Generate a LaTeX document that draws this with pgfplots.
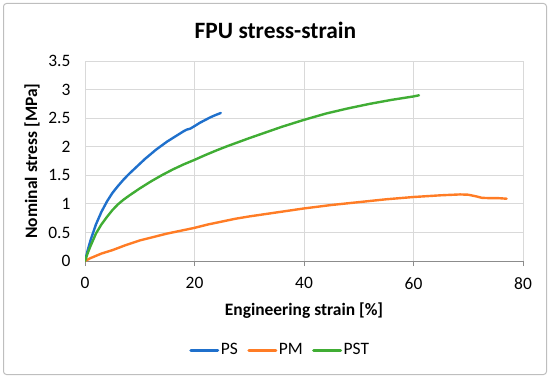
\documentclass[border=0pt]{standalone}
\usepackage{pgfplots}
\pgfplotsset{compat=1.18}
\usepackage{fontspec}
\setmainfont{Carlito}
\definecolor{psblue}{RGB}{31,112,204}
\definecolor{pmorange}{RGB}{255,124,37}
\definecolor{pstgreen}{RGB}{64,173,52}
\definecolor{gridgray}{RGB}{217,217,217}
\definecolor{axgray}{RGB}{140,140,140}
\definecolor{framegray}{RGB}{190,190,190}
\begin{document}
\begin{tikzpicture}[x=1bp,y=1bp]
\path[use as bounding box] (0,0) rectangle (550,378);
\draw[rounded corners=3bp, color=framegray, line width=1bp] (3.5,3.5) rectangle (546.5,374.5);
\node[font=\bfseries\fontsize{23.5}{26}\selectfont, anchor=base] at (275.5,340) {FPU stress-strain};
\begin{axis}[
  at={(85bp,117bp)}, anchor=south west,
  scale only axis, width=438bp, height=200bp,
  xmin=0, xmax=80, ymin=0, ymax=3.5,
  xtick={0,20,40,60,80},
  ytick={0,0.5,1,1.5,2,2.5,3,3.5},
  grid=major,
  major grid style={gridgray, line width=0.8bp},
  axis x line*=bottom,
  axis y line*=left,
  y axis line style={draw=none},
  x axis line style={axgray, line width=0.8bp, -},
  xtick style={axgray, line width=0.8bp},
  ytick style={draw=none},
  xtick align=outside,
  major tick length=5bp,
  tick label style={font=\fontsize{17.5}{20}\selectfont, text=black},
  /pgf/number format/assume math mode=true,
  yticklabel style={xshift=-11bp},
  xticklabel style={yshift=-8bp},
  xlabel={\textbf{Engineering strain [\%]}},
  ylabel={\textbf{Nominal stress [MPa]}},
  label style={font=\fontsize{17.5}{20}\selectfont},
  xlabel style={at={(axis description cs:0.5,-0.27)}, anchor=base},
  ylabel style={at={(axis description cs:-0.121,0.5)}, anchor=center},
  legend style={at={(axis description cs:0.445,-0.445)}, anchor=center, draw=none, fill=none,
    legend columns=3, font=\fontsize{17.5}{20}\selectfont, nodes={inner sep=1.5bp},
    /tikz/every even column/.append style={column sep=8bp}},
  legend image code/.code={\draw[#1, line width=3bp] (0bp,0bp) -- (27bp,0bp);},
  every axis plot/.append style={line width=2.4bp, line join=round, line cap=round},
]
\addplot[psblue, no marks] coordinates {
(0,0) (0.5,0.19) (1,0.36) (2,0.64) (3,0.86) (4,1.04) (5,1.19) (6,1.31) (7,1.42) (8,1.52) (9,1.61) (10,1.70) (11,1.79) (12,1.87) (13,1.95) (14,2.02) (15,2.09) (16,2.15) (17,2.21) (18,2.27) (18.6,2.30) (19.2,2.315) (20,2.36) (21,2.42) (22,2.47) (23,2.52) (24,2.56) (24.8,2.59)
};
\addlegendentry{PS}
\addplot[pmorange, no marks] coordinates {
(0,0) (1,0.05) (2,0.09) (3,0.13) (4,0.16) (5,0.19) (7.5,0.28) (10,0.36) (12.5,0.42) (15,0.48) (17.5,0.53) (20,0.58) (22.5,0.64) (25,0.69) (27.5,0.74) (30,0.78) (35,0.85) (40,0.92) (45,0.98) (50,1.03) (55,1.08) (60,1.12) (65,1.15) (68.5,1.165) (70,1.16) (71.5,1.13) (72.5,1.105) (74,1.10) (75.5,1.10) (77,1.09)
};
\addlegendentry{PM}
\addplot[pstgreen, no marks] coordinates {
(0,0) (0.5,0.14) (1,0.26) (2,0.48) (3,0.64) (4,0.77) (5,0.89) (6,0.99) (7,1.07) (8,1.14) (10,1.27) (12,1.39) (14,1.50) (16,1.60) (18,1.69) (20,1.77) (22,1.855) (24,1.935) (26,2.01) (28,2.08) (30,2.15) (33,2.25) (36,2.35) (40,2.47) (44,2.58) (48,2.67) (52,2.75) (56,2.82) (60,2.88) (61,2.9)
};
\addlegendentry{PST}
\end{axis}
\end{tikzpicture}
\end{document}
